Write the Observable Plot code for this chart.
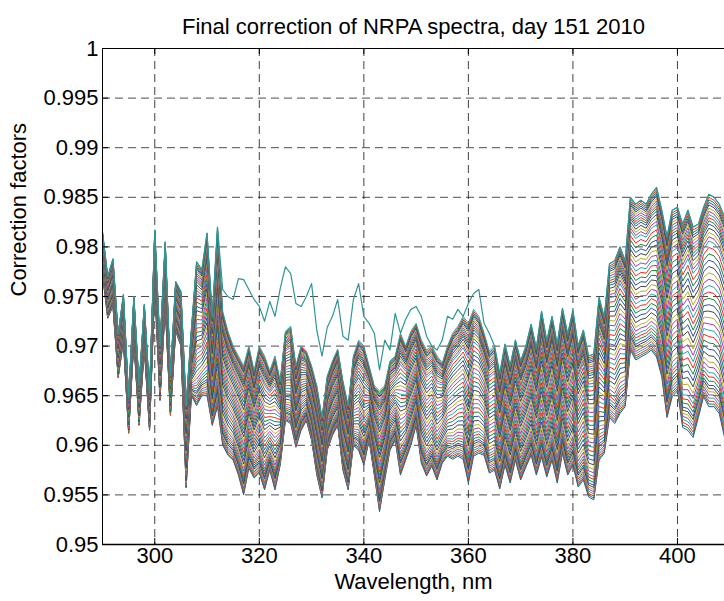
<!DOCTYPE html>
<html><head><meta charset="utf-8">
<script src="https://cdn.jsdelivr.net/npm/d3@7"></script>
<script src="https://cdn.jsdelivr.net/npm/@observablehq/plot@0.6"></script>
<style>html,body{margin:0;padding:0;background:#fff;overflow:hidden}svg{display:block}</style>
</head><body><div id="chart"></div>
<script>
const title = "Final correction of NRPA spectra, day 151 2010";
const xLabel = "Wavelength, nm";
const yLabel = "Correction factors";
const wlStart = 290, wlEnd = 409;
// upper edge of main bundle of spectra, 290..409 nm, 1 nm step
const upperEnvelope = [
  .9815,.9770,.9788,.9712,.9752,.9648,.9750,.9660,.9742,.9652,
  .9817,.9700,.9805,.9670,.9765,.9755,.9640,.9716,.9785,.9777,
  .9814,.9730,.9820,.9735,.9715,.9700,.9690,.9680,.9700,.9675,
  .9700,.9690,.9675,.9690,.9665,.9715,.9720,.9680,.9700,.9695,
  .9680,.9660,.9628,.9670,.9685,.9697,.9665,.9640,.9690,.9706,
  .9700,.9680,.9660,.9655,.9660,.9685,.9690,.9713,.9700,.9715,
  .9723,.9706,.9696,.9700,.9690,.9683,.9700,.9713,.9720,.9730,
  .9723,.9737,.9730,.9713,.9695,.9700,.9672,.9702,.9680,.9706,
  .9685,.9700,.9722,.9698,.9735,.9705,.9730,.9702,.9738,.9712,
  .9736,.9700,.9716,.9690,.9692,.9749,.9729,.9783,.9786,.9800,
  .9786,.9850,.9843,.9847,.9843,.9853,.9860,.9837,.9810,.9837,
  .9840,.9823,.9837,.9820,.9823,.9840,.9853,.9850,.9843,.9830
];
// lower edge of main bundle
const lowerEnvelope = [
  .9772,.9728,.9740,.9668,.9705,.9612,.9705,.9620,.9698,.9615,
  .9760,.9645,.9740,.9630,.9715,.9700,.9557,.9650,.9640,.9650,
  .9650,.9620,.9639,.9600,.9590,.9585,.9570,.9550,.9577,.9567,
  .9572,.9555,.9575,.9555,.9580,.9625,.9622,.9598,.9615,.9625,
  .9605,.9570,.9547,.9595,.9610,.9620,.9575,.9555,.9600,.9595,
  .9580,.9605,.9570,.9533,.9565,.9595,.9605,.9570,.9585,.9600,
  .9620,.9582,.9569,.9579,.9565,.9582,.9589,.9586,.9589,.9586,
  .9562,.9589,.9592,.9590,.9572,.9575,.9556,.9580,.9562,.9585,
  .9565,.9578,.9590,.9570,.9588,.9568,.9585,.9562,.9592,.9570,
  .9580,.9558,.9565,.9548,.9545,.9585,.9592,.9628,.9622,.9632,
  .9639,.9696,.9686,.9689,.9692,.9696,.9689,.9669,.9628,.9649,
  .9655,.9618,.9615,.9608,.9628,.9649,.9639,.9639,.9632,.9608
];
// separate teal spectrum above the bundle, 313..365 nm
const outlierStart = 313;
const outlierValues = [
  .9757,.9750,.9747,.9768,.9767,.9757,.9747,
  .9740,.9725,.9745,.9730,.9758,.9780,.9773,.9743,.9740,.9750,
  .9763,.9716,.9690,.9719,.9730,.9747,.9710,.9706,.9747,.9763,
  .9730,.9723,.9713,.9676,.9706,.9696,.9733,.9713,.9727,.9737,
  .9740,.9730,.9710,.9700,.9696,.9706,.9730,.9727,.9737,.9730,
  .9743,.9753,.9757,.9723,.9713,.9700
];
// relative position of each spectrum inside the bundle (0 = bottom, 1 = top)
const lineLevels = [0,0.012,0.025,0.04,0.055,0.07,0.085,0.10,0.12,0.14,0.16,0.185,0.21,0.24,0.27,0.30,
  0.33,0.36,0.39,0.42,0.45,0.48,0.51,0.54,0.57,0.60,0.63,0.66,0.69,0.72,0.75,0.78,0.80,0.82,0.84,
  0.86,0.875,0.89,0.905,0.92,0.935,0.95,0.962,0.974,0.986,1.0];
const lineColors = ["#2f4fb8","#16883a","#ff2424","#1fa9a9","#a83cb2","#b3b31c","#464646"];
const outlierColor = "#2f9595";
const xTicks = [300,320,340,360,380,400];
const yTicks = [0.95,0.955,0.96,0.965,0.97,0.975,0.98,0.985,0.99,0.995,1];
const yTickLabels = ["0.95","0.955","0.96","0.965","0.97","0.975","0.98","0.985","0.99","0.995","1"];

const wavelengths = d3.range(wlStart, wlEnd + 1);
const lineMarks = lineLevels.map((f, j) => {
  const rows = wavelengths.map((w, i) => ({w, v: lowerEnvelope[i] + f * (upperEnvelope[i] - lowerEnvelope[i])}));
  return Plot.line(rows, {x: "w", y: "v", stroke: lineColors[j % lineColors.length], strokeWidth: 1});
});
const outlierRows = wavelengths.map((w, i) => {
  const k = w - outlierStart;
  return {w, v: (k >= 0 && k < outlierValues.length) ? outlierValues[k] : upperEnvelope[i]};
});

const fs = 22;
const chart = Plot.plot({
  width: 724, height: 601,
  marginLeft: 102, marginRight: 0, marginTop: 48, marginBottom: 57,
  style: {fontFamily: "'Liberation Sans', Arial, Helvetica, sans-serif", background: "#fff", color: "#000"},
  x: {domain: [290, 409], axis: null},
  y: {domain: [0.95, 1], axis: null},
  marks: [
    Plot.ruleX(xTicks, {x: d => d, stroke: "#000", strokeOpacity: 0.75, strokeDasharray: "8,5"}),
    Plot.ruleY(yTicks, {y: d => d, stroke: "#000", strokeOpacity: 0.7, strokeDasharray: "8,5"}),
    ...lineMarks,
    Plot.line(outlierRows, {x: "w", y: "v", stroke: outlierColor, strokeWidth: 1.2}),
    Plot.ruleX([290], {stroke: "#000"}),
    Plot.ruleY([0.95], {stroke: "#000", strokeWidth: 1.5}),
    Plot.ruleY([1], {stroke: "#000"}),
    Plot.ruleX(xTicks, {x: d => d, stroke: "#000", insetTop: 490}),
    Plot.ruleX(xTicks, {x: d => d, stroke: "#000", insetBottom: 490}),
    Plot.ruleY(yTicks, {y: d => d, stroke: "#000", insetRight: 616}),
    Plot.text(xTicks, {x: d => d, frameAnchor: "bottom", dy: 18, text: d => String(d), fontSize: fs, fill: "#000"}),
    Plot.text(yTicks, {y: d => d, frameAnchor: "left", dx: -4, textAnchor: "end", text: (d, i) => yTickLabels[i], fontSize: fs, fill: "#000"}),
    Plot.text([title], {frameAnchor: "top", dy: -30, text: d => d, fontSize: fs, fill: "#000"}),
    Plot.text([xLabel], {frameAnchor: "bottom", dy: 44, text: d => d, fontSize: fs, fill: "#000"}),
    Plot.text([yLabel], {frameAnchor: "left", dx: -84, rotate: -90, text: d => d, fontSize: fs, fill: "#000"})
  ]
});
document.getElementById("chart").appendChild(chart);
</script>
</body></html>
